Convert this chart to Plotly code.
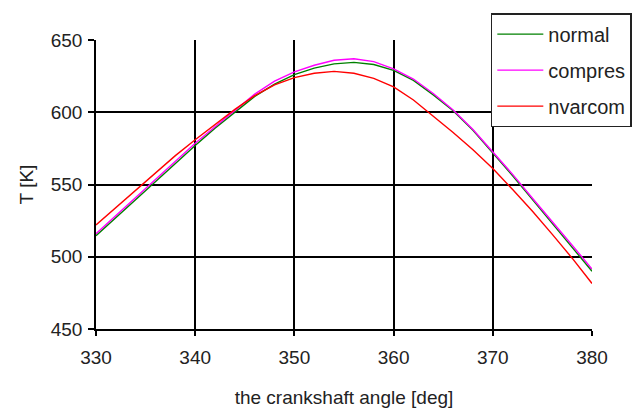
import plotly.graph_objects as go

angle = [330, 332, 334, 336, 338, 340, 342, 344, 346, 348, 350, 352, 354,
         356, 358, 360, 362, 364, 366, 368, 370, 372, 374, 376, 378, 380]

normal = [514.5, 527, 539.5, 552, 565, 577, 589, 600, 611, 619.5, 626, 630.5, 633.5,
          634.5, 633, 629, 622, 612, 601, 587.5, 572, 556, 539.5, 523, 507, 490]

compres = [516, 528.5, 541.5, 554, 566.5, 578.5, 590, 601, 612.5, 621.5, 628, 632.5, 636,
           637, 635, 630, 623, 613, 601.5, 588, 572.5, 557, 540.5, 524.5, 508, 491.5]

nvarcom = [522, 534, 546, 558, 570, 581, 591.5, 602, 611.5, 619, 624, 627, 628.3,
           627, 623.5, 617.5, 608.5, 597.5, 586, 574, 561, 546.5, 531.5, 515.5, 499, 481.5]

series_names = ["normal", "compres", "nvarcom"]
series_vals = [normal, compres, nvarcom]
series_colors = ["#008000", "#ff00ff", "#ff0000"]

x_ticks = [330, 340, 350, 360, 370, 380]
y_ticks = [450, 500, 550, 600, 650]

fig = go.Figure()
for name, vals, col in zip(series_names, series_vals, series_colors):
    fig.add_trace(go.Scatter(x=angle, y=vals, mode="lines", name=name,
                             legendgroup=name,
                             line=dict(color=col, width=1.4)))

font_main = "Liberation Sans, Arial, sans-serif"

fig.update_layout(
    width=633, height=408,
    margin=dict(l=96, r=41, t=40, b=79, autoexpand=False),
    paper_bgcolor="white", plot_bgcolor="white",
    font=dict(family=font_main, size=19, color="#222"),
    showlegend=True,
    legend=dict(x=0.796, y=1.093, xanchor="left", yanchor="top",
                bgcolor="white", bordercolor="#222", borderwidth=1.5,
                font=dict(size=20, color="#222"), tracegroupgap=7,
                itemwidth=46),
    xaxis=dict(range=[330, 380], tickvals=x_ticks, ticktext=[str(v) for v in x_ticks],
               showgrid=True, gridcolor="#000", gridwidth=1.5,
               showline=True, linecolor="#000", linewidth=1.5,
               ticks="outside", ticklen=5, tickcolor="#000", tickwidth=1.5,
               ticklabelstandoff=5,
               zeroline=False, automargin=False,
               title=dict(text="the crankshaft angle [deg]", standoff=24,
                          font=dict(size=19))),
    yaxis=dict(range=[450, 650], tickvals=y_ticks, ticktext=[str(v) for v in y_ticks],
               showgrid=True, gridcolor="#000", gridwidth=1.5,
               showline=True, linecolor="#000", linewidth=1.5,
               ticks="outside", ticklen=6, tickcolor="#000", tickwidth=1.5,
               ticklabelstandoff=2,
               zeroline=False, automargin=False,
               title=dict(text="T [K]", standoff=12, font=dict(size=19))),
)

fig.write_html("out.html")
